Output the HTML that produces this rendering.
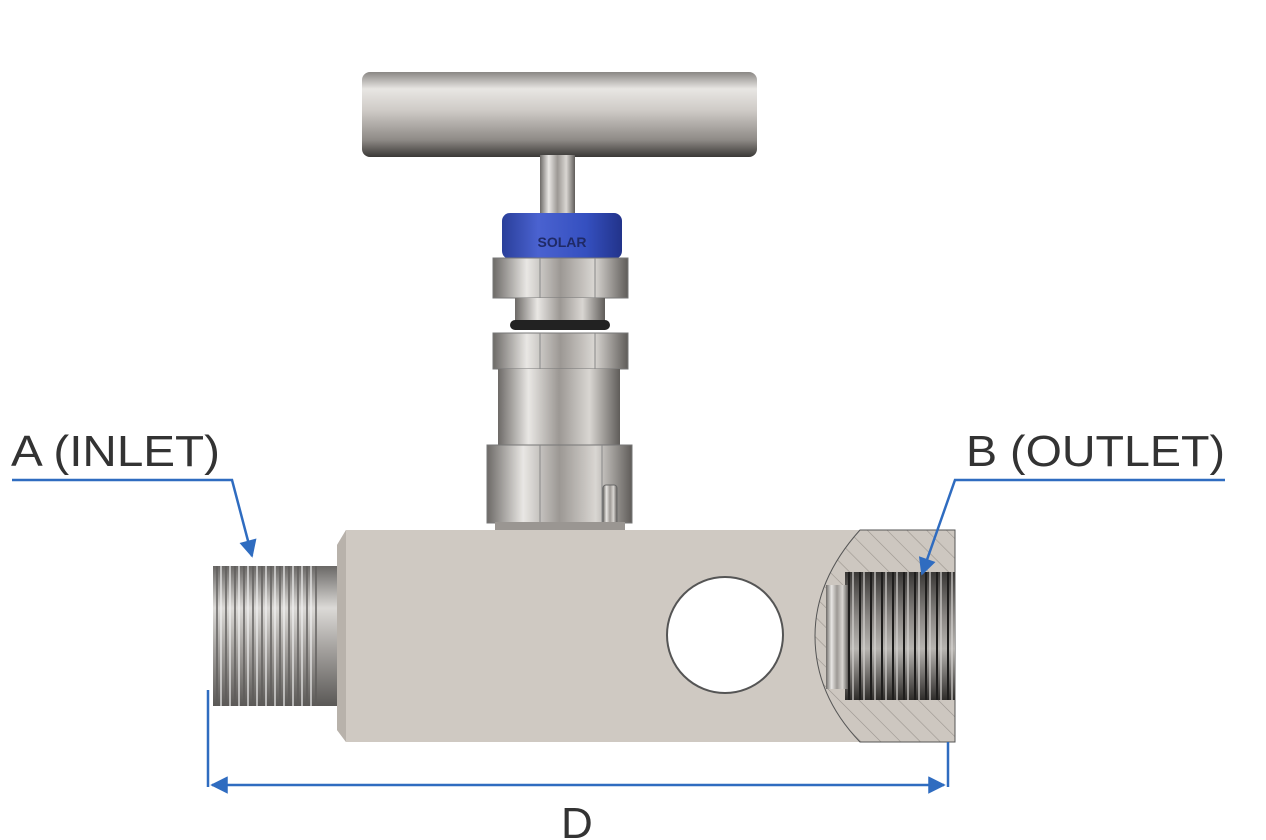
<!DOCTYPE html>
<html><head><meta charset="utf-8"><style>
html,body{margin:0;padding:0;background:#fff;}
svg{display:block}
</style></head><body>
<svg width="1266" height="840" viewBox="0 0 1266 840" xmlns="http://www.w3.org/2000/svg">
<defs>
<linearGradient id="hv" x1="0" y1="0" x2="0" y2="1">
<stop offset="0" stop-color="#8a8784"/><stop offset="0.2" stop-color="#e8e6e3"/><stop offset="0.45" stop-color="#cfcbc7"/><stop offset="0.8" stop-color="#8e8a86"/><stop offset="1" stop-color="#3a3836"/></linearGradient>
<linearGradient id="cyl" x1="0" y1="0" x2="1" y2="0">
<stop offset="0" stop-color="#6d6a67"/><stop offset="0.25" stop-color="#e9e7e4"/><stop offset="0.5" stop-color="#9c9894"/><stop offset="0.75" stop-color="#d9d6d2"/><stop offset="1" stop-color="#5f5c59"/></linearGradient>
<linearGradient id="blue" x1="0" y1="0" x2="1" y2="0">
<stop offset="0" stop-color="#2a3f9a"/><stop offset="0.3" stop-color="#4a62d0"/><stop offset="0.7" stop-color="#3550c0"/><stop offset="1" stop-color="#22338a"/></linearGradient>
<linearGradient id="thr" x1="0" y1="0" x2="0" y2="1">
<stop offset="0" stop-color="#6a6866"/><stop offset="0.3" stop-color="#dcdad7"/><stop offset="0.6" stop-color="#a3a09d"/><stop offset="1" stop-color="#5a5856"/></linearGradient>
<linearGradient id="ithr" x1="0" y1="0" x2="0" y2="1">
<stop offset="0" stop-color="#3a3836"/><stop offset="0.35" stop-color="#8a8784"/><stop offset="0.6" stop-color="#b7b4b0"/><stop offset="1" stop-color="#2e2c2a"/></linearGradient>
<pattern id="hatch" width="14" height="14" patternUnits="userSpaceOnUse" patternTransform="rotate(-45)">
<rect width="14" height="14" fill="#cdc7c0"/><line x1="0" y1="0" x2="0" y2="14" stroke="#9b958f" stroke-width="1.2"/></pattern>
<pattern id="tl" width="9" height="10" patternUnits="userSpaceOnUse"><line x1="1" y1="0" x2="1" y2="10" stroke="#5d5b59" stroke-width="1.4"/><line x1="5" y1="0" x2="5" y2="10" stroke="#f2f2f2" stroke-width="1.2"/></pattern>
<pattern id="ti" width="11" height="10" patternUnits="userSpaceOnUse"><line x1="2" y1="0" x2="2" y2="10" stroke="#1e1d1c" stroke-width="2"/><line x1="6" y1="0" x2="6" y2="10" stroke="#d8d6d3" stroke-width="1.2"/></pattern>
<marker id="ar" viewBox="0 0 10 10" refX="9" refY="5" markerWidth="9" markerHeight="7" orient="auto-start-reverse"><path d="M0,0 L10,5 L0,10 z" fill="#2f6cc0"/></marker>
</defs>

<rect x="362" y="72" width="395" height="85" rx="8" fill="url(#hv)"/>
<rect x="540" y="155" width="35" height="60" fill="url(#cyl)"/>
<rect x="502" y="213" width="120" height="46" rx="8" fill="url(#blue)"/>
<text x="562" y="247" font-family="Liberation Sans, sans-serif" font-size="14" font-weight="bold" fill="#1f2a66" text-anchor="middle">SOLAR</text>
<rect x="493" y="258" width="135" height="40" fill="url(#cyl)" stroke="#777" stroke-width="1"/>
<line x1="540" y1="258" x2="540" y2="298" stroke="#888"/><line x1="595" y1="258" x2="595" y2="298" stroke="#888"/>
<rect x="515" y="298" width="90" height="22" fill="url(#cyl)"/>
<rect x="510" y="320" width="100" height="10" rx="5" fill="#222"/>
<rect x="493" y="333" width="135" height="36" fill="url(#cyl)" stroke="#777"/>
<line x1="540" y1="333" x2="540" y2="369" stroke="#888"/><line x1="595" y1="333" x2="595" y2="369" stroke="#888"/>
<rect x="498" y="369" width="122" height="77" fill="url(#cyl)"/>
<rect x="487" y="445" width="145" height="78" fill="url(#cyl)" stroke="#777"/>
<line x1="540" y1="445" x2="540" y2="523" stroke="#888"/><line x1="602" y1="445" x2="602" y2="523" stroke="#888"/>
<rect x="603" y="485" width="14" height="40" rx="3" fill="url(#cyl)" stroke="#666"/>
<rect x="495" y="522" width="130" height="8" fill="#9a9692"/>

<rect x="213" y="566" width="108" height="140" fill="url(#thr)"/>
<rect x="213" y="566" width="108" height="140" fill="url(#tl)"/>
<rect x="318" y="566" width="22" height="140" fill="url(#thr)"/>
<path d="M346,530 L955,530 L955,742 L346,742 L337,730 L337,545 Z" fill="#cfc9c2"/>
<path d="M337,545 L346,530 L346,742 L337,730 Z" fill="#b8b2ab"/>
<path d="M955,530 L860,530 Q815,580 815,636 Q815,695 860,742 L955,742 Z" fill="url(#hatch)" stroke="#555" stroke-width="1"/>
<rect x="845" y="572" width="110" height="128" fill="url(#ithr)"/>
<rect x="845" y="572" width="110" height="128" fill="url(#ti)"/>
<rect x="826" y="585" width="22" height="104" fill="url(#cyl)"/>
<circle cx="725" cy="635" r="58" fill="#fff" stroke="#555" stroke-width="2"/>

<g font-family="Liberation Sans, sans-serif" font-size="44" fill="#333">
<text x="11" y="466" textLength="209" lengthAdjust="spacingAndGlyphs">A (INLET)</text>
<text x="966" y="466" textLength="259" lengthAdjust="spacingAndGlyphs">B (OUTLET)</text>
<text x="561" y="838">D</text>
</g>
<g stroke="#2f6cc0" stroke-width="2.5" fill="none">
<polyline points="12,480 232,480 252,556" marker-end="url(#ar)"/>
<polyline points="1225,480 955,480 922,574" marker-end="url(#ar)"/>
<line x1="208" y1="690" x2="208" y2="787"/>
<line x1="948" y1="742" x2="948" y2="787"/>
<line x1="212" y1="785" x2="944" y2="785" marker-start="url(#ar)" marker-end="url(#ar)"/>
</g>
</svg>
</body></html>
